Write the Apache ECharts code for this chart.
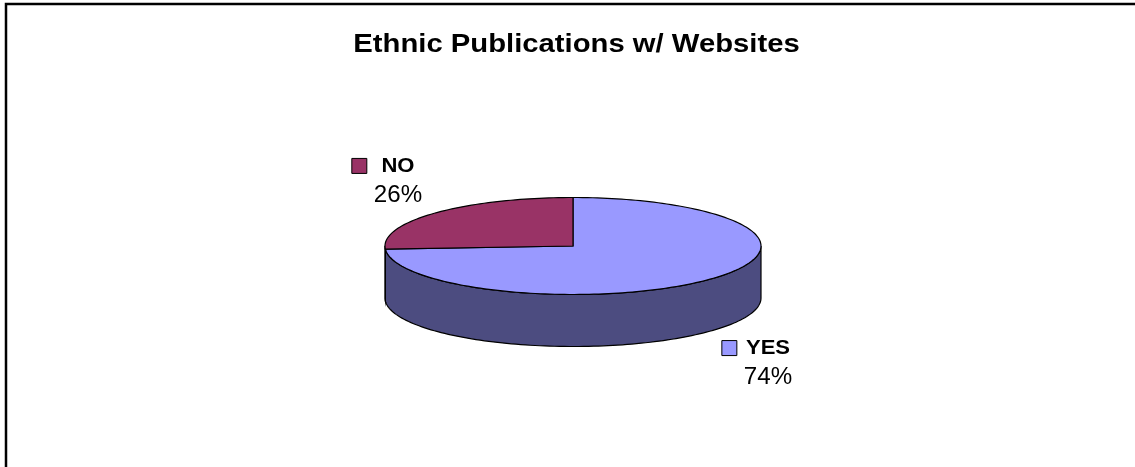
<!DOCTYPE html>
<html>
<head>
<meta charset="utf-8">
<script src="https://cdn.jsdelivr.net/npm/echarts@6/dist/echarts.min.js"></script>
<style>
  html, body { margin: 0; padding: 0; background: #fff; }
  #main { width: 1135px; height: 467px; }
</style>
</head>
<body>
<div id="main"></div>
<script>
// data
var categories = ['YES', 'NO'];
var shares = [74, 26];

// look
var topColors = ['#9999FF', '#993366'];
var sideColors = ['#4C4C80', '#4C1A33'];

var chart = echarts.init(document.getElementById('main'));

// pie geometry (fake 3d, like the old excel pie)
var geo = { cx: 573, cy: 246, rx: 188, ry: 48.5, depth: 52 };
var labelScale = 1.05;
var pctFont = '23px "Liberation Sans"';

var measureCtx = document.createElement('canvas').getContext('2d');
function textWidth(str, font) {
    measureCtx.font = font;
    return measureCtx.measureText(str).width;
}

function total() {
    var t = 0;
    for (var i = 0; i < shares.length; i++) t += shares[i];
    return t;
}
// clockwise from 12 o'clock, degrees in math orientation
function sliceAngles(idx) {
    var t = total();
    var start = 90;
    for (var i = 0; i < idx; i++) start -= shares[i] / t * 360;
    return [start, start - shares[idx] / t * 360];
}
function pt(deg, dy) {
    var r = deg * Math.PI / 180;
    return [geo.cx + geo.rx * Math.cos(r), geo.cy - geo.ry * Math.sin(r) + (dy || 0)];
}
function arc(a0, a1, dy) {
    var n = Math.max(2, Math.ceil(Math.abs(a0 - a1) / 1.5));
    var out = [];
    for (var i = 0; i <= n; i++) out.push(pt(a0 + (a1 - a0) * i / n, dy));
    return out;
}

function renderSide(params, api) {
    var idx = params.dataIndex;
    var a = sliceAngles(idx);
    var children = [];
    for (var k = -1; k <= 1; k++) {
        var lo = Math.max(a[1], -180 + 360 * k);
        var hi = Math.min(a[0], 360 * k);
        if (lo < hi) {
            var pts = arc(hi, lo, 0).concat(arc(lo, hi, geo.depth));
            children.push({
                type: 'polygon',
                shape: { points: pts },
                style: { fill: sideColors[idx], stroke: '#000', lineWidth: 1.2 }
            });
        }
    }
    return { type: 'group', children: children };
}

function renderTop(params, api) {
    var idx = params.dataIndex;
    var a = sliceAngles(idx);
    var pts = [[geo.cx, geo.cy]].concat(arc(a[0], a[1], 0));
    var mid = (a[0] + a[1]) / 2;
    var m = mid * Math.PI / 180;
    var sin = Math.sin(m);
    var lx = geo.cx + geo.rx * Math.cos(m) * 1.35 + 10;
    var ly = geo.cy - geo.ry * sin * 1.96 + (sin < 0 ? geo.depth : 0);
    var pct = Math.round(api.value(1) / total() * 100) + '%';
    var blockW = textWidth(pct, pctFont) * labelScale;
    var lineH = 29;
    return {
        type: 'group',
        children: [{
            type: 'polygon',
            shape: { points: pts },
            style: { fill: topColors[idx], stroke: '#000', lineWidth: 1.2 }
        }, {
            type: 'rect',
            shape: { x: lx - blockW / 2 - 22, y: ly - lineH / 2 - 8, width: 15, height: 15 },
            style: { fill: topColors[idx], stroke: '#000', lineWidth: 1 }
        }, {
            type: 'text',
            x: lx,
            y: ly,
            scaleX: labelScale,
            style: {
                text: '{b|' + categories[idx] + '}\n{p|' + pct + '}',
                align: 'center',
                verticalAlign: 'middle',
                textAlign: 'center',
                textVerticalAlign: 'middle',
                rich: {
                    b: { fontFamily: 'Liberation Sans', fontWeight: 'bold', fontSize: 21, fill: '#000', color: '#000', lineHeight: lineH },
                    p: { fontFamily: 'Liberation Sans', fontSize: 23, fill: '#000', color: '#000', lineHeight: lineH }
                }
            }
        }]
    };
}

var seriesData = categories.map(function (c, i) { return [i, shares[i]]; });

chart.setOption({
    backgroundColor: '#fff',
    animation: false,
    graphic: [{
        type: 'rect',
        shape: { x: 6, y: 4, width: 1400, height: 800 },
        style: { fill: 'none', stroke: '#000', lineWidth: 2.5 },
        silent: true
    }, {
        type: 'text',
        x: 576.5,
        y: 45,
        scaleX: 1.17,
        style: {
            text: 'Ethnic Publications w/ Websites',
            align: 'center',
            verticalAlign: 'middle',
            textAlign: 'center',
            textVerticalAlign: 'middle',
            fontFamily: 'Liberation Sans',
            fontWeight: 'bold',
            fontSize: 25,
            fill: '#000'
        }
    }],
    series: [{
        type: 'custom',
        coordinateSystem: 'none',
        renderItem: renderSide,
        data: seriesData,
        z: 1
    }, {
        type: 'custom',
        coordinateSystem: 'none',
        renderItem: renderTop,
        data: seriesData,
        z: 2
    }]
});

window.onresize = function () {
    chart.resize();
};
</script>
</body>
</html>
